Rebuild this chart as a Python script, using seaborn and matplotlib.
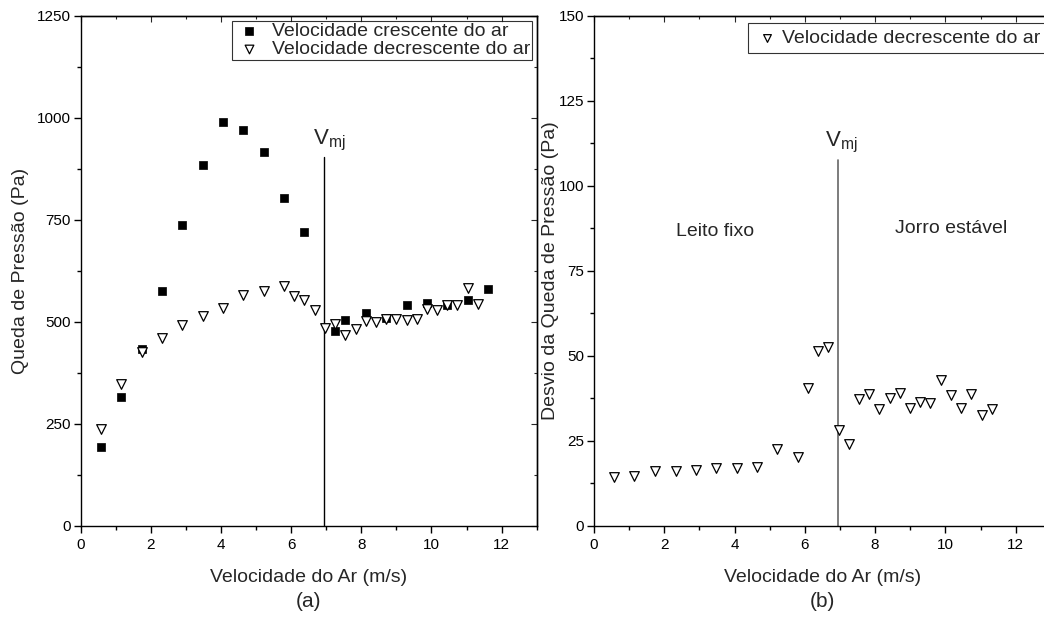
import numpy as np
import pandas as pd
import matplotlib
matplotlib.use("Agg")
import matplotlib.pyplot as plt
from matplotlib.ticker import MultipleLocator
import seaborn as sns

# Air velocity (m/s) and pressure drop (Pa), increasing air velocity
vel_up = [0.57, 1.15, 1.74, 2.32, 2.90, 3.48, 4.06, 4.64, 5.22, 5.80, 6.37,
          7.25, 7.54, 8.12, 8.70, 9.29, 9.86, 10.44, 11.03, 11.61]
dp_up = [194, 316, 433, 575, 737, 884, 989, 970, 916, 803, 720,
         477, 505, 521, 510, 540, 545, 542, 553, 580]

# Air velocity (m/s) and pressure drop (Pa), decreasing air velocity
vel_down = [0.57, 1.15, 1.74, 2.32, 2.90, 3.48, 4.06, 4.64, 5.22, 5.80, 6.09,
            6.37, 6.67, 6.96, 7.25, 7.54, 7.84, 8.12, 8.42, 8.70, 8.99, 9.29,
            9.58, 9.86, 10.16, 10.44, 10.74, 11.03, 11.33]
dp_down = [236, 347, 427, 461, 493, 514, 534, 565, 575, 588, 563,
           553, 530, 484, 494, 468, 482, 502, 499, 508, 507, 504,
           508, 531, 529, 542, 542, 584, 543]

# Standard deviation of the pressure drop (Pa), decreasing air velocity
vel_dev = [0.58, 1.15, 1.74, 2.32, 2.90, 3.48, 4.06, 4.64, 5.22, 5.80, 6.09,
           6.37, 6.67, 6.96, 7.25, 7.55, 7.83, 8.12, 8.41, 8.70, 8.99, 9.29,
           9.57, 9.87, 10.16, 10.45, 10.74, 11.03, 11.33]
dp_dev = [14.4, 14.5, 16.2, 16.1, 16.4, 17.0, 16.9, 17.2, 22.5, 20.3, 40.6,
          51.5, 52.6, 28.1, 24.1, 37.3, 38.8, 34.2, 37.5, 39.1, 34.5, 36.5,
          36.2, 42.9, 38.5, 34.5, 38.9, 32.6, 34.2]

v_mj = 6.93

sns.set_theme(style="ticks")
plt.rcParams["font.family"] = ["Liberation Sans", "DejaVu Sans"]
plt.rcParams["mathtext.fontset"] = "custom"
plt.rcParams["mathtext.rm"] = "Liberation Sans"
plt.rcParams["mathtext.it"] = "Liberation Sans"

fig = plt.figure(figsize=(10.44, 6.19), dpi=100)
ax1 = fig.add_axes([0.0773, 0.1507, 0.4368, 0.8236])
ax2 = fig.add_axes([0.5690, 0.1507, 0.4375, 0.8236])

df_up = pd.DataFrame({"v": vel_up, "dp": dp_up})
df_down = pd.DataFrame({"v": vel_down, "dp": dp_down})
df_dev = pd.DataFrame({"v": vel_dev, "dp": dp_dev})

sns.scatterplot(data=df_up, x="v", y="dp", ax=ax1, marker="s", s=36,
                color="black", edgecolor="black", linewidth=0.5,
                label="Velocidade crescente do ar", zorder=3)
sns.scatterplot(data=df_down, x="v", y="dp", ax=ax1, marker="v", s=48,
                facecolor="white", edgecolor="black", linewidth=0.9,
                label="Velocidade decrescente do ar", zorder=4)
sns.scatterplot(data=df_dev, x="v", y="dp", ax=ax2, marker="v", s=48,
                facecolor="white", edgecolor="black", linewidth=0.9,
                label="Velocidade decrescente do ar", zorder=4)

# Minimum spouting velocity marker
ax1.plot([v_mj, v_mj], [0, 904], color="black", lw=1.0, zorder=2)
ax1.text(6.62, 935, r"V$_{\mathrm{mj}}$", fontsize=16, ha="left", va="baseline")
ax2.plot([v_mj, v_mj], [0, 107.6], color="#666666", lw=1.2, zorder=2)
ax2.text(6.57, 111.5, r"V$_{\mathrm{mj}}$", fontsize=16, ha="left", va="baseline")

ax2.text(2.33, 85.3, "Leito fixo", fontsize=14, ha="left", va="baseline")
ax2.text(8.57, 86.2, "Jorro estável", fontsize=14, ha="left", va="baseline")

def style_axes(ax, ymax, ymajor, yminor, ylabel, ylabelpad, tag):
    ax.set_xlim(0, 13)
    ax.set_ylim(0, ymax)
    ax.xaxis.set_major_locator(MultipleLocator(2))
    ax.xaxis.set_minor_locator(MultipleLocator(1))
    ax.yaxis.set_major_locator(MultipleLocator(ymajor))
    ax.yaxis.set_minor_locator(MultipleLocator(yminor))
    ax.tick_params(which="major", direction="out", length=5, width=1,
                   labelsize=11, color="black", labelcolor="black", pad=2)
    ax.tick_params(axis="x", which="major", pad=4)
    ax.tick_params(which="minor", direction="out", length=3, width=1,
                   color="black")
    for side in ["top", "right", "bottom", "left"]:
        ax.spines[side].set_visible(True)
        ax.spines[side].set_color("black")
        ax.spines[side].set_linewidth(1.0)
    ax.set_xlabel("Velocidade do Ar (m/s)", fontsize=14, labelpad=12)
    ax.set_ylabel(ylabel, fontsize=14, labelpad=ylabelpad)
    # inward ticks without labels on the opposite spines
    top = ax.secondary_xaxis("top")
    top.xaxis.set_major_locator(MultipleLocator(2))
    top.xaxis.set_minor_locator(MultipleLocator(1))
    top.tick_params(which="both", direction="in", labeltop=False, width=0.8)
    top.tick_params(which="major", length=4)
    top.tick_params(which="minor", length=2)
    top.spines["top"].set_linewidth(1.0)
    right = ax.secondary_yaxis("right")
    right.yaxis.set_major_locator(MultipleLocator(ymajor))
    right.yaxis.set_minor_locator(MultipleLocator(yminor))
    right.tick_params(which="both", direction="in", labelright=False, width=0.8)
    right.tick_params(which="major", length=4)
    right.tick_params(which="minor", length=2)
    right.spines["right"].set_linewidth(1.0)
    ax.text(0.5, -0.13, tag, transform=ax.transAxes, fontsize=15,
            ha="center", va="top")

style_axes(ax1, 1250, 250, 125, "Queda de Pressão (Pa)", 6, "(a)")
style_axes(ax2, 150, 25, 12.5, "Desvio da Queda de Pressão (Pa)", 0, "(b)")

leg1 = ax1.legend(loc="upper right", fontsize=14, frameon=True,
                  fancybox=False, borderaxespad=0.25, handletextpad=0.35,
                  borderpad=0.1, labelspacing=0.0, handlelength=1.6,
                  markerscale=0.9)
leg2 = ax2.legend(loc="upper right", bbox_to_anchor=(1.0, 0.995),
                  fontsize=14, frameon=True, fancybox=False,
                  borderaxespad=0.25, handletextpad=0.05, borderpad=0.3,
                  labelspacing=0.0, handlelength=1.4, markerscale=0.8)
for leg in (leg1, leg2):
    leg.get_frame().set_edgecolor("black")
    leg.get_frame().set_linewidth(0.8)

fig.savefig("out.png", dpi=100)
